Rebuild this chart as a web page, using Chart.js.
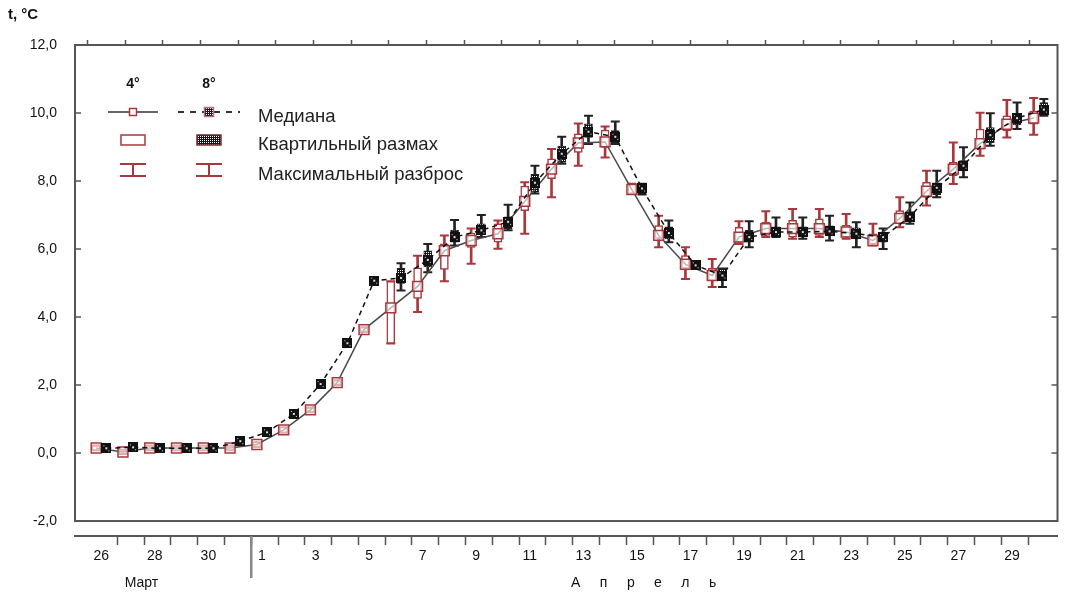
<!DOCTYPE html>
<html lang="ru">
<head>
<meta charset="utf-8">
<title>Температура, март–апрель</title>
<script src="https://cdn.jsdelivr.net/npm/chart.js@4.4.1/dist/chart.umd.min.js"></script>
<style>
  html, body { margin: 0; padding: 0; background: #fff; }
</style>
</head>
<body>
<canvas id="chart" width="1066" height="597"></canvas>
<script>
// Дни: 26 марта ... 30 апреля
const dayLabels = ['26','27','28','29','30','31',
  '1','2','3','4','5','6','7','8','9','10','11','12','13','14','15','16','17','18','19','20',
  '21','22','23','24','25','26','27','28','29','30'];
const monthNames = ['Март', 'А     п     р     е     л     ь'];
const yTicks = [-2, 0, 2, 4, 6, 8, 10, 12];

// 4° — медиана, квартили, мин/макс
const med4 = [0.15,0.03,0.15,0.15,0.15,0.15,0.25,0.68,1.27,2.07,3.63,4.27,4.9,5.95,6.25,6.45,7.4,8.35,
  9.12,9.15,7.75,6.4,5.55,5.22,6.35,6.6,6.6,6.6,6.5,6.25,6.9,7.7,8.35,9.1,9.67,9.85];
const q1_4 = [0.08,-0.03,0.08,0.08,0.08,0.08,0.18,0.6,1.2,2.0,3.56,3.22,4.55,5.4,6.05,6.2,7.13,8.07,
  8.84,8.99,7.63,6.31,5.43,5.07,6.2,6.4,6.35,6.4,6.35,6.15,6.74,7.52,8.16,8.94,9.48,9.67];
const q3_4 = [0.22,0.1,0.22,0.22,0.22,0.22,0.32,0.76,1.34,2.14,3.7,5.05,5.45,6.15,6.47,6.74,7.85,8.65,
  9.39,9.5,7.92,6.69,5.81,5.43,6.64,6.79,6.84,6.89,6.7,6.45,7.13,7.96,8.55,9.53,9.92,10.06];
const min4 = [0.08,-0.03,0.08,0.08,0.08,0.08,0.18,0.6,1.2,2.0,3.56,3.22,4.15,5.05,5.57,6.01,6.45,7.52,
  8.45,8.69,7.63,6.05,5.12,4.88,6.15,6.35,6.3,6.35,6.3,6.1,6.64,7.28,7.91,8.74,9.28,9.36];
const max4 = [0.22,0.1,0.22,0.22,0.22,0.22,0.32,0.76,1.34,2.14,3.7,5.05,5.8,6.4,6.6,6.84,7.96,8.94,
  9.69,9.6,7.92,6.98,6.05,5.71,6.82,7.11,7.18,7.18,7.03,6.74,7.52,8.3,9.13,10.01,10.38,10.44];

// 8°
const med8 = [0.14,0.17,0.14,0.14,0.14,0.35,0.61,1.15,2.03,3.23,5.07,5.15,5.68,6.35,6.55,6.8,7.95,8.8,
  9.45,9.3,7.78,6.47,5.52,5.22,6.35,6.5,6.5,6.52,6.45,6.35,6.95,7.8,8.45,9.35,9.85,10.1];
const q1_8 = [0.07,0.1,0.07,0.07,0.07,0.28,0.54,1.08,1.96,3.16,5.0,4.99,5.47,6.2,6.42,6.6,7.67,8.55,
  9.28,9.13,7.6,6.3,5.43,5.1,6.2,6.4,6.4,6.4,6.3,6.2,6.8,7.6,8.3,9.13,9.65,9.97];
const q3_8 = [0.21,0.24,0.21,0.21,0.21,0.42,0.68,1.22,2.1,3.3,5.14,5.43,5.95,6.56,6.74,6.95,8.2,9.03,
  9.68,9.48,7.92,6.65,5.62,5.4,6.55,6.65,6.65,6.68,6.62,6.5,7.1,7.95,8.6,9.57,9.95,10.31];
const min8 = [0.07,0.1,0.07,0.07,0.07,0.28,0.54,1.08,1.96,3.16,5.0,4.78,5.32,6.1,6.35,6.55,7.63,8.51,
  9.09,9.09,7.6,6.2,5.43,4.88,6.05,6.35,6.3,6.25,6.05,6.0,6.74,7.52,8.11,9.04,9.53,9.92];
const max8 = [0.21,0.24,0.21,0.21,0.21,0.42,0.68,1.22,2.1,3.3,5.14,5.58,6.15,6.85,7.0,7.3,8.45,9.3,
  9.92,9.75,7.92,6.84,5.62,5.43,6.82,6.93,6.93,6.98,6.79,6.6,7.37,8.3,8.99,9.99,10.31,10.41];

const legendSeries = ['4°', '8°'];
const legendRows = ['Медиана', 'Квартильный размах', 'Максимальный разброс'];

const RED = '#a8383c';
const DARK = '#111';
const AXIS = '#555';
const OFF = 0.19;       // сдвиг 4° влево, 8° вправо
const TICK_SHIFT = 0.6; // риски оси дней между подписями
const MONTH_AT = [1.5, 20.25]; // где стоят подписи месяцев
const NARROW = "'Liberation Sans Narrow', 'Liberation Sans', Arial, sans-serif";
const SANS = "'Liberation Sans', Arial, sans-serif";

const canvas = document.getElementById('chart');
const mainCtx = canvas.getContext('2d');

// штриховка для 8°
function checker() {
    const c = document.createElement('canvas');
    c.width = 2; c.height = 2;
    const g = c.getContext('2d');
    g.fillStyle = '#151515';
    g.fillRect(0, 0, 2, 2);
    g.fillStyle = '#fff';
    g.fillRect(0, 0, 1, 1);
    return mainCtx.createPattern(c, 'repeat');
}
const pattern8 = checker();

// маркер 8°
function marker8() {
    const c = document.createElement('canvas');
    c.width = 10; c.height = 10;
    const g = c.getContext('2d');
    g.fillStyle = '#111';
    g.fillRect(0, 0, 10, 10);
    g.fillStyle = '#ddd';
    g.fillRect(4, 4, 2, 2);
    g.fillRect(2, 2, 1, 1);
    g.fillRect(7, 7, 1, 1);
    return c;
}
const mark8 = marker8();

const pts = (vals, dx) => vals.map((v, i) => ({ x: i + dx, y: v }));
const ranges = (lo, hi, dx) => lo.map((v, i) => ({ x: i + dx, y: [v, hi[i]] }));
const caps = (lo, hi, dx) => lo.flatMap((v, i) => [{ x: i + dx, y: v }, { x: i + dx, y: hi[i] }]);
const isMark = v => Math.abs((v % 1) - TICK_SHIFT) < 0.01;

// рамка, внутренние риски и разделитель месяцев
const framePlugin = {
    id: 'frame',
    afterDraw(chart) {
        const { ctx, chartArea: a, scales: { x, y } } = chart;
        const yb = y.getPixelForValue(yTicks[0]);
        ctx.save();
        ctx.strokeStyle = AXIS;
        ctx.lineWidth = 2;
        ctx.strokeRect(a.left, a.top, a.right - a.left, yb - a.top);
        ctx.lineWidth = 1.5;
        ctx.beginPath();
        y.ticks.forEach(t => {
            const py = y.getPixelForValue(t.value);
            ctx.moveTo(a.left, py); ctx.lineTo(a.left + 6, py);
            ctx.moveTo(a.right - 6, py); ctx.lineTo(a.right, py);
        });
        ctx.stroke();
        ctx.lineWidth = 2.5;
        ctx.strokeStyle = '#888';
        const px = x.getPixelForValue(5 + TICK_SHIFT);
        ctx.beginPath();
        ctx.moveTo(px, a.bottom); ctx.lineTo(px, a.bottom + 42);
        ctx.stroke();
        ctx.restore();
    }
};

// легенда
const legendPlugin = {
    id: 'boxLegend',
    afterDraw(chart) {
        const ctx = chart.ctx;
        const cols = [133, 209];
        const rows = [112, 140, 170];
        ctx.save();
        ctx.fillStyle = DARK;
        ctx.textAlign = 'center';
        ctx.textBaseline = 'middle';
        ctx.font = 'bold 14px ' + SANS;
        legendSeries.forEach((s, k) => ctx.fillText(s, cols[k], 84));

        // медиана
        ctx.lineWidth = 2;
        ctx.strokeStyle = '#666';
        ctx.beginPath(); ctx.moveTo(108, rows[0]); ctx.lineTo(158, rows[0]); ctx.stroke();
        ctx.strokeStyle = '#333';
        ctx.setLineDash([6, 6]);
        ctx.beginPath(); ctx.moveTo(178, rows[0]); ctx.lineTo(240, rows[0]); ctx.stroke();
        ctx.setLineDash([]);
        ctx.lineWidth = 1.5;
        ctx.fillStyle = '#fff';
        ctx.strokeStyle = RED;
        ctx.fillRect(cols[0] - 3.5, rows[0] - 3.5, 7, 7);
        ctx.strokeRect(cols[0] - 3.5, rows[0] - 3.5, 7, 7);
        ctx.fillStyle = pattern8;
        ctx.fillRect(cols[1] - 4, rows[0] - 4, 8, 8);
        ctx.strokeStyle = '#c07070';
        ctx.strokeRect(cols[1] - 4.5, rows[0] - 4.5, 9, 9);

        // квартильный размах
        ctx.strokeStyle = RED;
        ctx.fillStyle = '#fff';
        ctx.fillRect(cols[0] - 12, rows[1] - 5, 24, 10);
        ctx.strokeRect(cols[0] - 12, rows[1] - 5, 24, 10);
        ctx.fillStyle = pattern8;
        ctx.fillRect(cols[1] - 12, rows[1] - 5, 24, 10);
        ctx.strokeStyle = '#7a2a2a';
        ctx.strokeRect(cols[1] - 12, rows[1] - 5, 24, 10);

        // максимальный разброс
        ctx.strokeStyle = RED;
        ctx.lineWidth = 2;
        cols.forEach(cx => {
            ctx.beginPath();
            ctx.moveTo(cx - 13, rows[2] - 6); ctx.lineTo(cx + 13, rows[2] - 6);
            ctx.moveTo(cx - 13, rows[2] + 6); ctx.lineTo(cx + 13, rows[2] + 6);
            ctx.moveTo(cx, rows[2] - 6); ctx.lineTo(cx, rows[2] + 6);
            ctx.stroke();
        });

        ctx.fillStyle = '#222';
        ctx.textAlign = 'left';
        ctx.font = '18.5px ' + SANS;
        legendRows.forEach((t, k) => ctx.fillText(t, 258, rows[k] + 5));
        ctx.restore();
    }
};

const bgPlugin = {
    id: 'bg',
    beforeDraw(chart) {
        const ctx = chart.ctx;
        ctx.save();
        ctx.fillStyle = '#fff';
        ctx.fillRect(0, 0, chart.width, chart.height);
        ctx.restore();
    }
};

new Chart(canvas, {
    type: 'line',
    data: {
        datasets: [
            // стебли разброса
            { type: 'bar', data: ranges(min4, max4, -OFF), backgroundColor: RED, barThickness: 2, grouped: false, order: 9 },
            { type: 'bar', data: ranges(min8, max8, OFF), backgroundColor: '#222', barThickness: 2, grouped: false, order: 8 },
            // засечки
            { type: 'scatter', data: caps(min4, max4, -OFF), pointStyle: 'line', radius: 4.5, borderWidth: 2,
              borderColor: RED, pointBorderColor: RED, order: 7 },
            { type: 'scatter', data: caps(min8, max8, OFF), pointStyle: 'line', radius: 4.5, borderWidth: 2,
              borderColor: '#222', pointBorderColor: '#222', order: 6 },
            // квартильный размах
            { type: 'bar', data: ranges(q1_4, q3_4, -OFF), backgroundColor: '#fff', borderColor: RED, borderWidth: 1.5,
              borderSkipped: false, barThickness: 8, grouped: false, order: 5 },
            { type: 'bar', data: ranges(q1_8, q3_8, OFF), backgroundColor: pattern8, borderColor: '#222', borderWidth: 1,
              borderSkipped: false, barThickness: 8, grouped: false, order: 4 },
            // медианы
            { type: 'line', label: '4°', data: pts(med4, -OFF), borderColor: '#4a4a4a', borderWidth: 1.5, tension: 0,
              pointStyle: 'rect', pointRadius: 7, pointBorderColor: RED, pointBackgroundColor: 'rgba(255,255,255,0.6)',
              pointBorderWidth: 1.5, order: 3 },
            { type: 'line', label: '8°', data: pts(med8, OFF), borderColor: '#111', borderWidth: 1.5, borderDash: [5, 4],
              tension: 0, pointStyle: mark8, order: 2 }
        ]
    },
    options: {
        responsive: false,
        animation: false,
        layout: { padding: { left: 8, right: 8, top: 0, bottom: 0 } },
        plugins: {
            legend: { display: false },
            tooltip: { enabled: false },
            title: {
                display: true,
                text: 't, °C',
                align: 'start',
                color: '#111',
                font: { family: SANS, size: 15, weight: 'bold', lineHeight: 1.2 },
                padding: { top: 6, bottom: 16 }
            }
        },
        scales: {
            x: {
                type: 'linear',
                position: 'bottom',
                min: -0.98,
                max: 35.7,
                offset: false,
                afterBuildTicks: s => {
                    const t = [];
                    dayLabels.forEach((d, i) => {
                        t.push(i);
                        if (i < dayLabels.length - 1) t.push(i + TICK_SHIFT);
                    });
                    t.push(...MONTH_AT);
                    s.ticks = t.sort((a, b) => a - b).map(v => ({ value: v }));
                },
                afterFit: s => { s.height = 61; },
                border: { display: true, color: AXIS, width: 2 },
                grid: {
                    drawOnChartArea: false,
                    offset: false,
                    tickLength: 9,
                    tickWidth: 1.5,
                    tickColor: c => (c.tick && isMark(c.tick.value)) ? AXIS : 'rgba(0,0,0,0)'
                },
                ticks: {
                    autoSkip: false,
                    maxRotation: 0,
                    minRotation: 0,
                    padding: -2,
                    color: '#111',
                    font: { family: NARROW, size: 14, lineHeight: '27px' },
                    callback: v => {
                        const m = MONTH_AT.indexOf(v);
                        if (m >= 0) return ['', monthNames[m]];
                        if (Number.isInteger(v) && v % 2 === 0) return dayLabels[v];
                        return '';
                    }
                }
            },
            xt: {
                type: 'linear',
                position: 'top',
                min: -0.33,
                max: 25.75,
                afterFit: s => { s.height = 5; },
                border: { display: false },
                grid: { drawOnChartArea: false, tickLength: 5, tickColor: AXIS, tickWidth: 1.5 },
                ticks: { display: false, stepSize: 1, includeBounds: false }
            },
            y: {
                type: 'linear',
                min: -2.44,
                max: 12,
                afterBuildTicks: s => { s.ticks = yTicks.map(v => ({ value: v })); },
                afterFit: s => { s.width = 67; },
                border: { display: false },
                grid: { display: false, drawTicks: false },
                ticks: {
                    padding: 18,
                    color: '#111',
                    font: { family: NARROW, size: 14 },
                    callback: v => v.toFixed(1).replace('.', ',')
                }
            }
        }
    },
    plugins: [bgPlugin, framePlugin, legendPlugin]
});
</script>
</body>
</html>
